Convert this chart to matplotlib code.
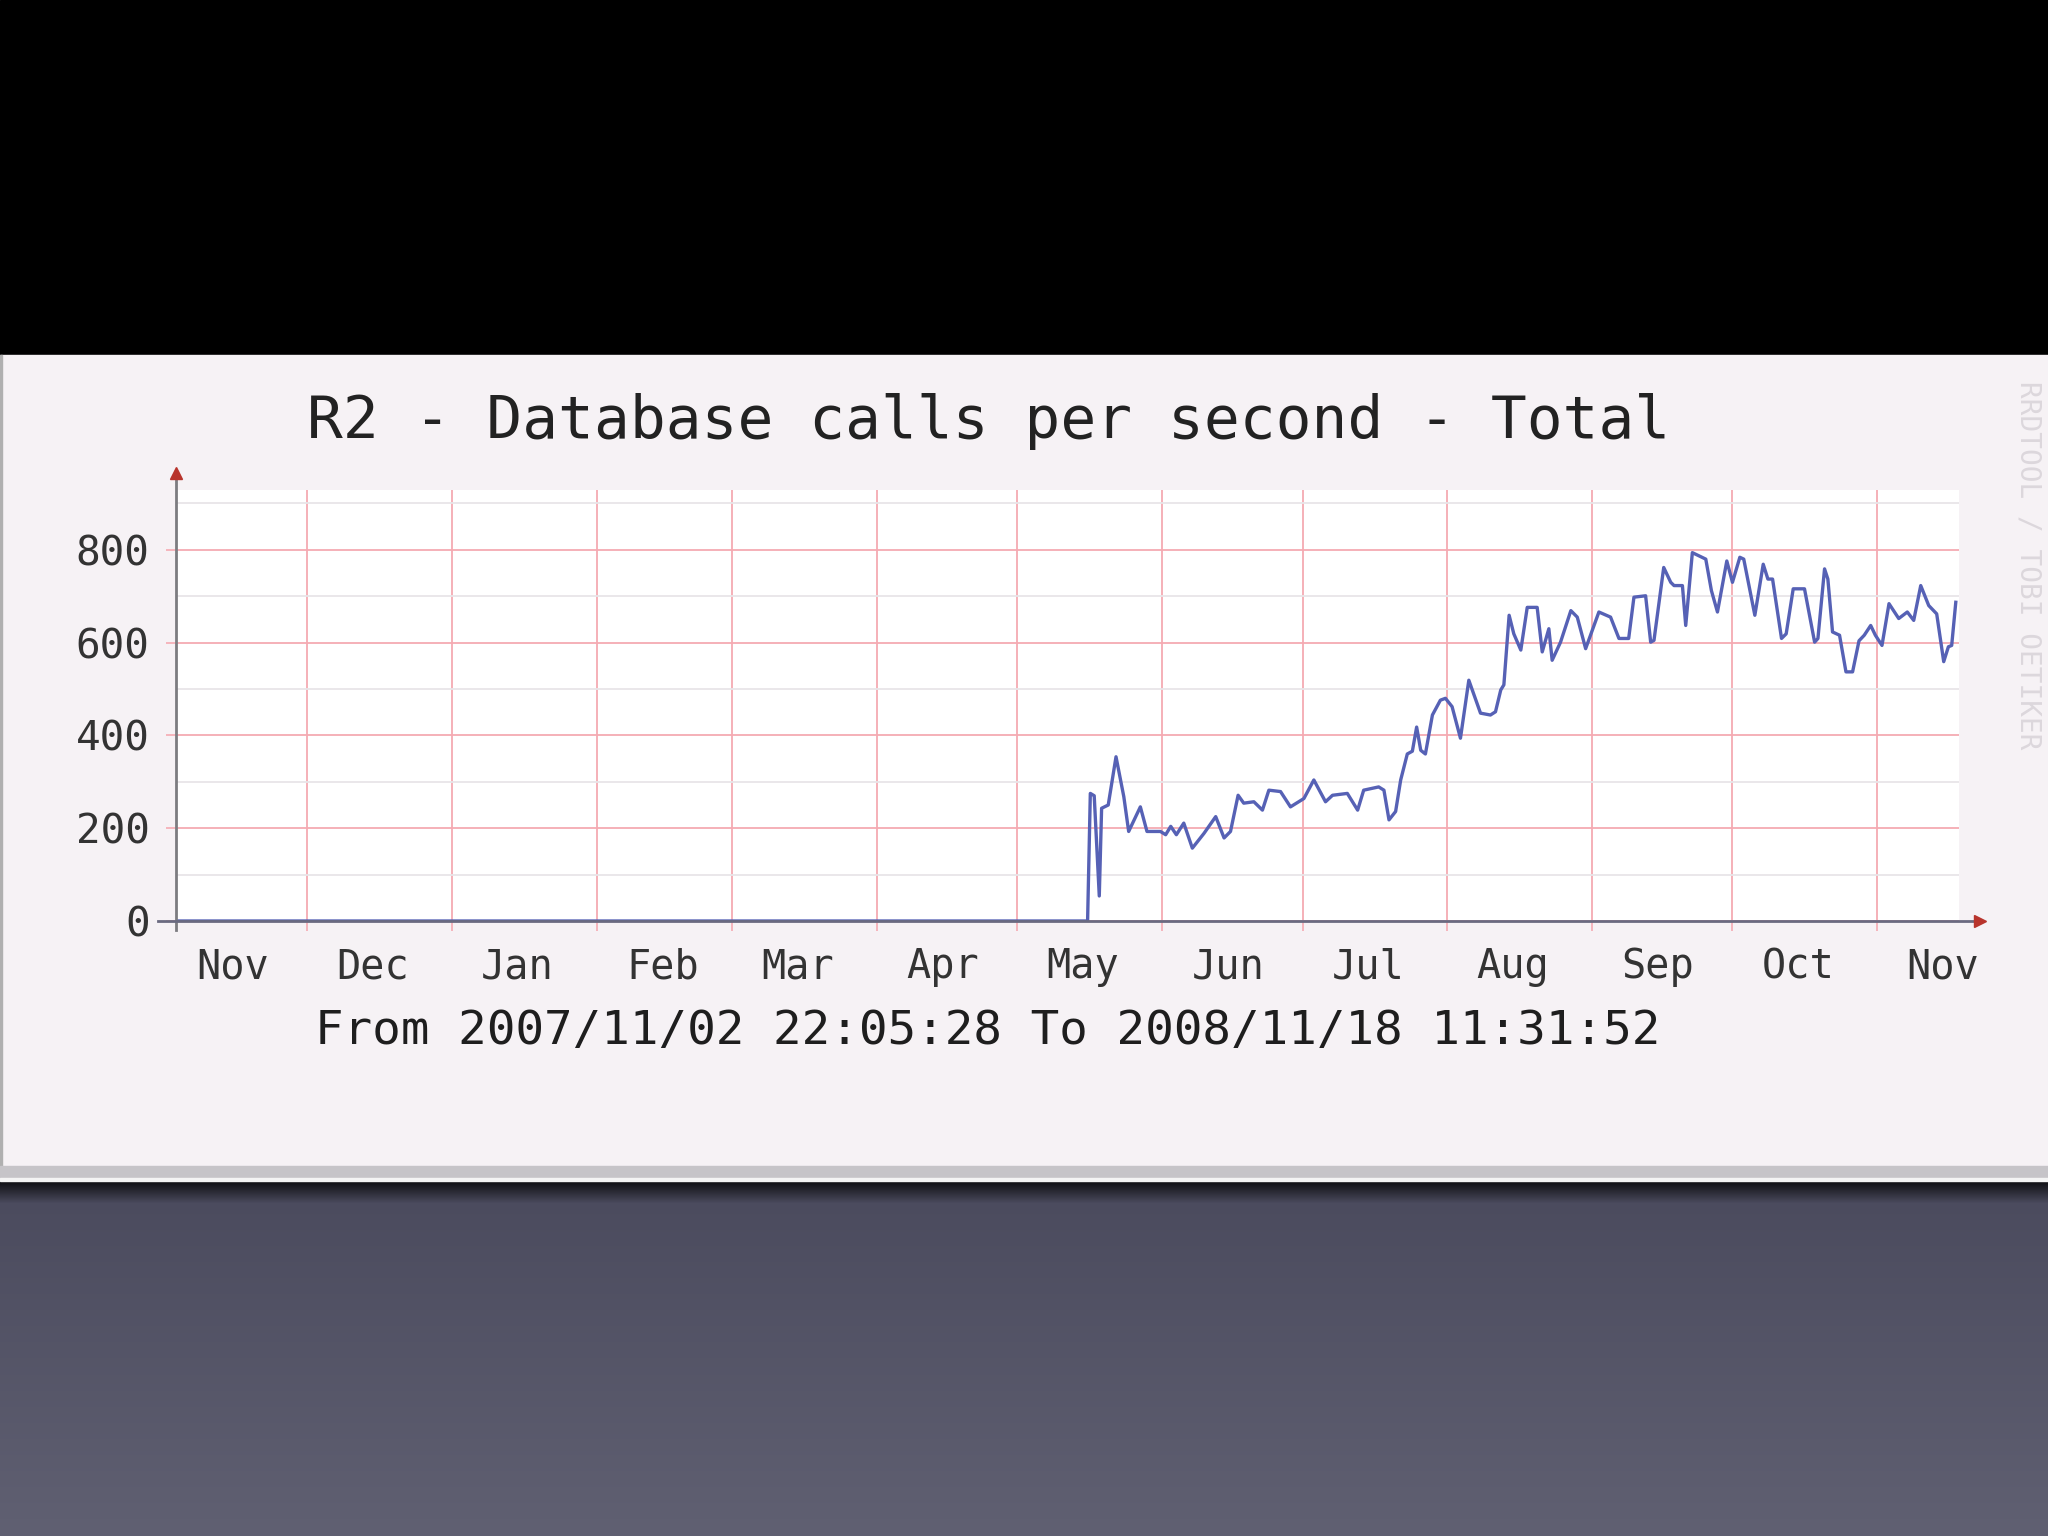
import numpy as np
import pandas as pd
import matplotlib
matplotlib.use('Agg')
import matplotlib.pyplot as plt
import matplotlib.dates as mdates
from matplotlib.patches import Rectangle
from matplotlib.ticker import FixedLocator

# texts
title = 'R2 - Database calls per second - Total'
footer = 'From 2007/11/02 22:05:28 To 2008/11/18 11:31:52'
watermark = 'RRDTOOL / TOBI OETIKER'
t_start = '2007-11-02 22:05:28'
t_end = '2008-11-18 11:31:52'

# series (calls per second)
times = [
    '2007-11-02 22:05', '2008-05-16 00:00', '2008-05-16 14:00', '2008-05-17 10:00',
    '2008-05-18 12:00', '2008-05-19 00:00', '2008-05-20 10:00', '2008-05-22 02:00',
    '2008-05-23 18:00', '2008-05-24 19:00', '2008-05-27 07:00', '2008-05-28 17:00',
    '2008-05-31 14:00', '2008-06-01 17:00', '2008-06-02 19:00', '2008-06-04 00:00',
    '2008-06-05 14:00', '2008-06-07 10:00', '2008-06-09 22:00', '2008-06-12 10:00',
    '2008-06-14 05:00', '2008-06-15 14:00', '2008-06-17 05:00', '2008-06-18 10:00',
    '2008-06-20 14:00', '2008-06-22 10:00', '2008-06-23 19:00', '2008-06-26 07:00',
    '2008-06-28 10:00', '2008-07-01 07:00', '2008-07-03 10:00', '2008-07-05 22:00',
    '2008-07-07 10:00', '2008-07-10 14:00', '2008-07-12 19:00', '2008-07-14 02:00',
    '2008-07-17 07:00', '2008-07-18 10:00', '2008-07-19 12:00', '2008-07-20 22:00',
    '2008-07-22 00:00', '2008-07-23 10:00', '2008-07-24 12:00', '2008-07-25 10:00',
    '2008-07-26 07:00', '2008-07-27 07:00', '2008-07-28 19:00', '2008-07-30 12:00',
    '2008-07-31 14:00', '2008-08-02 00:00', '2008-08-03 19:00', '2008-08-05 14:00',
    '2008-08-08 02:00', '2008-08-10 05:00', '2008-08-11 07:00', '2008-08-12 10:00',
    '2008-08-13 02:00', '2008-08-14 05:00', '2008-08-15 05:00', '2008-08-16 17:00',
    '2008-08-18 02:00', '2008-08-20 05:00', '2008-08-21 07:00', '2008-08-22 17:00',
    '2008-08-23 10:00', '2008-08-25 05:00', '2008-08-27 10:00', '2008-08-28 19:00',
    '2008-08-30 14:00', '2008-09-02 10:00', '2008-09-04 22:00', '2008-09-06 17:00',
    '2008-09-08 19:00', '2008-09-09 22:00', '2008-09-12 10:00', '2008-09-13 12:00',
    '2008-09-14 05:00', '2008-09-16 07:00', '2008-09-17 19:00', '2008-09-18 12:00',
    '2008-09-20 07:00', '2008-09-21 00:00', '2008-09-22 10:00', '2008-09-25 07:00',
    '2008-09-26 12:00', '2008-09-27 19:00', '2008-09-29 19:00', '2008-10-01 00:00',
    '2008-10-02 14:00', '2008-10-03 10:00', '2008-10-05 19:00', '2008-10-07 14:00',
    '2008-10-08 14:00', '2008-10-09 14:00', '2008-10-11 12:00', '2008-10-12 12:00',
    '2008-10-14 00:00', '2008-10-16 10:00', '2008-10-18 14:00', '2008-10-19 07:00',
    '2008-10-20 17:00', '2008-10-21 10:00', '2008-10-22 10:00', '2008-10-23 22:00',
    '2008-10-25 07:00', '2008-10-26 17:00', '2008-10-28 02:00', '2008-10-29 05:00',
    '2008-10-30 14:00', '2008-10-31 14:00', '2008-11-02 00:00', '2008-11-03 12:00',
    '2008-11-05 14:00', '2008-11-07 10:00', '2008-11-08 19:00', '2008-11-10 07:00',
    '2008-11-12 00:00', '2008-11-13 17:00', '2008-11-15 05:00', '2008-11-16 05:00',
    '2008-11-16 22:00', '2008-11-17 19:00',
]
calls = [
    0, 0, 275, 270,
    54, 243, 250, 354,
    268, 193, 246, 193,
    193, 186, 204, 186,
    211, 157, 189, 225,
    179, 193, 271, 254,
    257, 239, 282, 279,
    246, 264, 304, 257,
    271, 275, 239, 282,
    289, 282, 218, 236,
    304, 360, 366, 418,
    368, 360, 444, 476,
    480, 462, 394, 519,
    448, 444, 451, 498,
    509, 659, 619, 584,
    676, 676, 580, 630,
    562, 601, 669, 655,
    587, 666, 655, 609,
    609, 698, 701, 601,
    605, 762, 730, 723,
    723, 637, 794, 780,
    712, 666, 776, 730,
    784, 780, 659, 769,
    737, 737, 609, 619,
    716, 716, 601, 609,
    759, 737, 623, 616,
    537, 537, 604, 616,
    637, 616, 594, 684,
    652, 666, 648, 723,
    680, 662, 559, 591,
    594, 687,
]
y_ticks = [0, 200, 400, 600, 800]
y_minor = [100, 300, 500, 700, 900]

W, H = 2048, 1536
mono = 'DejaVu Sans Mono'
pink = '#f5aab2'

fig = plt.figure(figsize=(W / 100, H / 100), dpi=100)

# slide background drawn in pixel coordinates
bg = fig.add_axes([0, 0, 1, 1], zorder=-5)
bg.axis('off')
bg.add_patch(Rectangle((0, 0), W, 355, color='black'))
bg.add_patch(Rectangle((0, 355), W, 811, color='#f6f2f5'))
bg.add_patch(Rectangle((0, 355), 2, 811, color='#b0b0b0'))
bg.add_patch(Rectangle((0, 1166), W, 12, color='#c6c4c8'))
bg.add_patch(Rectangle((0, 1178), W, 3, color='#f4f4f4'))
grad = np.linspace(0, 1, 356).reshape(-1, 1)
top_c = np.array([0x4a, 0x4a, 0x5d]) / 255
bot_c = np.array([0x60, 0x60, 0x72]) / 255
img = top_c + (bot_c - top_c) * grad
img = img.reshape(356, 1, 3)
shadow = np.clip(1 - np.arange(356) / 22, 0, 1).reshape(-1, 1, 1)
img = img * (1 - 0.8 * shadow)
bg.imshow(img, extent=[0, W, H, 1181], aspect='auto', interpolation='bilinear')
bg.set_xlim(0, W)
bg.set_ylim(H, 0)

# chart
ax = fig.add_axes([176 / W, 1 - 921 / H, (1959 - 176) / W, (921 - 490) / H])
ax.set_facecolor('white')
x = pd.to_datetime(times)
ax.plot(x, calls, color='#5661b5', lw=2.4, zorder=4, solid_joinstyle='round')

ax.set_xlim(pd.Timestamp(t_start), pd.Timestamp(t_end))
ax.set_ylim(0, 929)

ax.yaxis.set_major_locator(FixedLocator(y_ticks))
ax.yaxis.set_minor_locator(FixedLocator(y_minor))
ax.xaxis.set_major_locator(mdates.MonthLocator())
ax.xaxis.set_major_formatter(plt.NullFormatter())
ax.xaxis.set_minor_locator(mdates.MonthLocator(bymonthday=15))
ax.xaxis.set_minor_formatter(mdates.DateFormatter('%b'))

ax.grid(which='major', axis='both', color=pink, lw=1.3, zorder=1)
ax.grid(which='minor', axis='y', color='#e8e5e8', lw=1.3, zorder=0)
ax.set_axisbelow(True)

ax.tick_params(axis='y', which='major', length=7, width=1.2, color=pink,
               labelsize=29.5, labelcolor='#333333', pad=12)
ax.tick_params(axis='y', which='minor', length=0)
ax.tick_params(axis='x', which='major', length=7, width=1.2, color=pink)
ax.tick_params(axis='x', which='minor', length=0, labelsize=29,
               labelcolor='#333333', pad=19)
for lab in ax.get_xticklabels(minor=True) + ax.get_yticklabels():
    lab.set_family(mono)

for s in ax.spines.values():
    s.set_visible(False)

# axes with arrow heads, rrdtool style
ax.plot([0, 0], [-0.02, 1.03], transform=ax.transAxes, color='#7c7c80',
        lw=2, clip_on=False, zorder=5)
ax.plot([-0.01, 1.008], [0, 0], transform=ax.transAxes, color='#6a6a80',
        lw=2, clip_on=False, zorder=5)
ax.plot(0, 1.039, marker='^', ms=9, color='#b8342c', transform=ax.transAxes,
        clip_on=False, zorder=6)
ax.plot(1.012, 0, marker='>', ms=9, color='#b8342c', transform=ax.transAxes,
        clip_on=False, zorder=6)

fig.text(989 / W, 1 - 422 / H, title, ha='center', va='center',
         fontsize=42.8, family=mono, color='#222222')
fig.text(988 / W, 1 - 1032 / H, footer, ha='center', va='center',
         fontsize=34.2, family=mono, color='#1e1e1e')
fig.text(2028 / W, 1 - 565 / H, watermark, ha='center', va='center',
         rotation=270, fontsize=20, family=mono, color='#dcd7dc')

fig.savefig('out.png', dpi=100)
